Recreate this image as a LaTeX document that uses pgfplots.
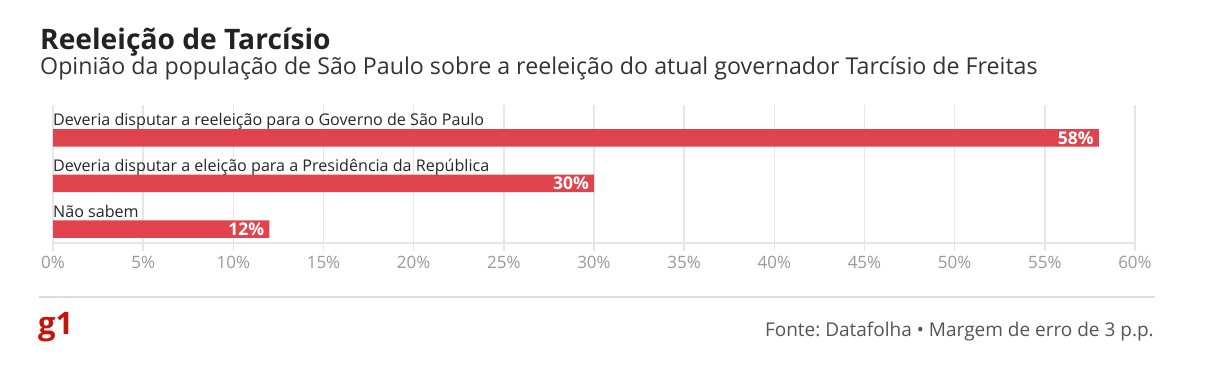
\documentclass[border=0pt]{standalone}
\usepackage{fontspec}
\setmainfont{Open Sans}
\usepackage{pgfplots}
\pgfplotsset{compat=1.18}
\frenchspacing
\definecolor{barred}{HTML}{E0434B}
\definecolor{gridgray}{HTML}{E6E6E6}
\definecolor{ticktext}{HTML}{999999}
\definecolor{titletext}{HTML}{222222}
\definecolor{subtext}{HTML}{333333}
\definecolor{labtext}{HTML}{262626}
\definecolor{srctext}{HTML}{555555}
\definecolor{gone}{HTML}{C4170C}
\definecolor{footline}{HTML}{DCDCDC}
\begin{document}
\begin{tikzpicture}[x=1pt,y=1pt]
\fill[white] (0,0) rectangle (1208,389);
\node[anchor=base west, font=\fontsize{28.2}{32}\selectfont\bfseries, text=titletext, inner sep=0] at (40,339) {Reeleição de Tarcísio};
\node[anchor=base west, font=\fontsize{23.2}{27}\selectfont, text=subtext, inner sep=0] at (40,314) {Opinião da população de São Paulo sobre a reeleição do atual governador Tarcísio de Freitas};
\begin{axis}[
  at={(53pt,146pt)}, anchor=south west, scale only axis,
  width=1082pt, height=138pt,
  xmin=0, xmax=60, ymin=0, ymax=138,
  xbar, bar width=17.5pt,
  axis x line*=bottom, axis y line=none,
  axis line style={-, draw=gridgray, line width=1.5pt},
  xtick={0,5,...,60},
  xticklabel={\pgfmathprintnumber{\tick}\%},
  /pgf/number format/assume math mode=true,
  xticklabel style={text=ticktext, font=\fontsize{17}{20}\selectfont, anchor=base, yshift=-17pt},
  xmajorgrids, grid style={draw=gridgray, line width=1.5pt},
  major tick length=8pt, tick align=outside, tick style={draw=gridgray, line width=1.5pt},
  ytick=\empty,
  nodes near coords={\pgfmathprintnumber{\pgfplotspointmeta}\%},
  point meta=x,
  nodes near coords style={anchor=east, text=white, font=\fontsize{17.5}{20}\selectfont\bfseries, inner sep=0pt, xshift=-5pt},
  clip=false,
]
\addplot[fill=barred, draw=none] coordinates {(58,105) (30,59.5) (12,14)};
\node[anchor=base west, inner sep=0, text=labtext, font=\fontsize{16.1}{19}\selectfont] at (axis cs:0,117) {Deveria disputar a reeleição para o Governo de São Paulo};
\node[anchor=base west, inner sep=0, text=labtext, font=\fontsize{16.1}{19}\selectfont] at (axis cs:0,71.5) {Deveria disputar a eleição para a Presidência da República};
\node[anchor=base west, inner sep=0, text=labtext, font=\fontsize{16.1}{19}\selectfont] at (axis cs:0,26) {Não sabem};
\end{axis}
\draw[footline, line width=2pt] (39,92) -- (1155,92);
\node[anchor=base west, font=\fontsize{31}{32}\selectfont\bfseries, text=gone, inner sep=0] at (38,55) {g1};
\node[anchor=base east, font=\fontsize{19}{23}\selectfont, text=srctext, inner sep=0] at (1154,53) {Fonte: Datafolha • Margem de erro de 3 p.p.};
\end{tikzpicture}
\end{document}
